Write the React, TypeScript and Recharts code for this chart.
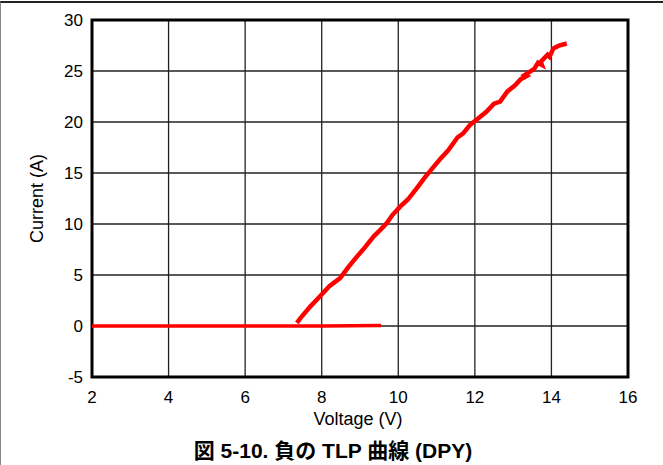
import React from 'react';
import { LineChart, Line, XAxis, YAxis, CartesianGrid, ReferenceArea } from 'recharts';

// flat part: device off, current stays at 0 A
const offVoltage = [2, 4, 6, 8, 9.55];
const offCurrent = [0, 0, 0, 0, 0.05];

// snapback / on-state part
const onVoltage = [
  7.35, 7.45, 7.7, 7.95, 8.2, 8.48, 8.7, 8.92, 9.15, 9.35, 9.55, 9.7, 9.85, 10.05,
  10.25, 10.5, 10.7, 10.9, 11.1, 11.3, 11.55, 11.7, 11.87, 12.1, 12.3, 12.5, 12.66,
  12.85, 13.05, 13.2, 13.35, 13.3, 13.55, 13.65, 13.75, 13.72, 13.9, 13.95, 14.05,
  14.1, 14.2, 14.4,
];
const onCurrent = [
  0.3, 0.8, 1.9, 2.9, 3.9, 4.7, 5.8, 6.8, 7.8, 8.75, 9.5, 10.1, 10.9, 11.7,
  12.4, 13.6, 14.6, 15.5, 16.4, 17.2, 18.5, 18.9, 19.7, 20.4, 21.0, 21.8, 22.0,
  23.0, 23.6, 24.2, 24.5, 24.6, 25.2, 25.8, 25.6, 25.9, 26.6, 26.4, 27.2,
  27.3, 27.5, 27.7,
];

const xTicks = [2, 4, 6, 8, 10, 12, 14, 16];
const yTicks = [-5, 0, 5, 10, 15, 20, 25, 30];

const offData = offVoltage.map((v, i) => ({ v, a: offCurrent[i] }));
const onData = onVoltage.map((v, i) => ({ v, a: onCurrent[i] }));

const font = "'Liberation Sans', Arial, 'Noto Sans CJK JP', sans-serif";

export default function App() {
  return (
    <div
      style={{
        position: 'absolute',
        left: 0,
        top: 0,
        width: 663,
        height: 465,
        background: '#fff',
        fontFamily: font,
      }}
    >
      <div
        style={{
          position: 'absolute',
          left: 0,
          top: 1,
          width: 663,
          height: 464,
          borderTop: '2px solid #222',
          borderLeft: '1px solid #888',
          boxSizing: 'border-box',
        }}
      />
      <LineChart
        width={663}
        height={465}
        margin={{ top: 20, right: 35, left: 32, bottom: 43 }}
        style={{ position: 'absolute', left: 0, top: 0 }}
      >
        <CartesianGrid stroke="#222" strokeWidth={1.3} />
        <XAxis
          dataKey="v"
          type="number"
          domain={[2, 16]}
          ticks={xTicks}
          allowDuplicatedCategory={false}
          axisLine={false}
          tickLine={false}
          tickMargin={8}
          height={45}
          tick={{ fill: '#000', fontSize: 17, fontFamily: font }}
          label={{
            content: ({ viewBox }: any) => (
              <text
                x={viewBox.x + viewBox.width / 2 - 2}
                y={viewBox.y + 48}
                textAnchor="middle"
                fontSize={18}
                fontFamily={font}
                fill="#000"
              >
                Voltage (V)
              </text>
            ),
          }}
        />
        <YAxis
          dataKey="a"
          type="number"
          domain={[-5, 30]}
          ticks={yTicks}
          axisLine={false}
          tickLine={false}
          tickMargin={3}
          width={60}
          tick={{ fill: '#000', fontSize: 17, fontFamily: font }}
          label={{
            content: ({ viewBox }: any) => (
              <text
                x={37}
                y={viewBox.y + viewBox.height / 2}
                textAnchor="middle"
                dominantBaseline="central"
                fontSize={18}
                fontFamily={font}
                fill="#000"
                transform={`rotate(-90, 37, ${viewBox.y + viewBox.height / 2})`}
              >
                Current (A)
              </text>
            ),
          }}
        />
        <ReferenceArea x1={2} x2={16} y1={-5} y2={30} fill="none" stroke="#000" strokeWidth={3} />
        <Line
          data={offData}
          dataKey="a"
          type="linear"
          stroke="#ff0000"
          strokeWidth={3.5}
          dot={false}
          isAnimationActive={false}
        />
        <Line
          data={onData}
          dataKey="a"
          type="linear"
          stroke="#ff0000"
          strokeWidth={4.5}
          strokeLinejoin="miter"
          dot={false}
          isAnimationActive={false}
        />
      </LineChart>
      <div
        style={{
          position: 'absolute',
          left: 0,
          width: 666,
          top: 440,
          lineHeight: '21px',
          textAlign: 'center',
          fontSize: 21,
          fontWeight: 'bold',
          color: '#000',
        }}
      >
        図 5-10. 負の TLP 曲線 (DPY)
      </div>
    </div>
  );
}
